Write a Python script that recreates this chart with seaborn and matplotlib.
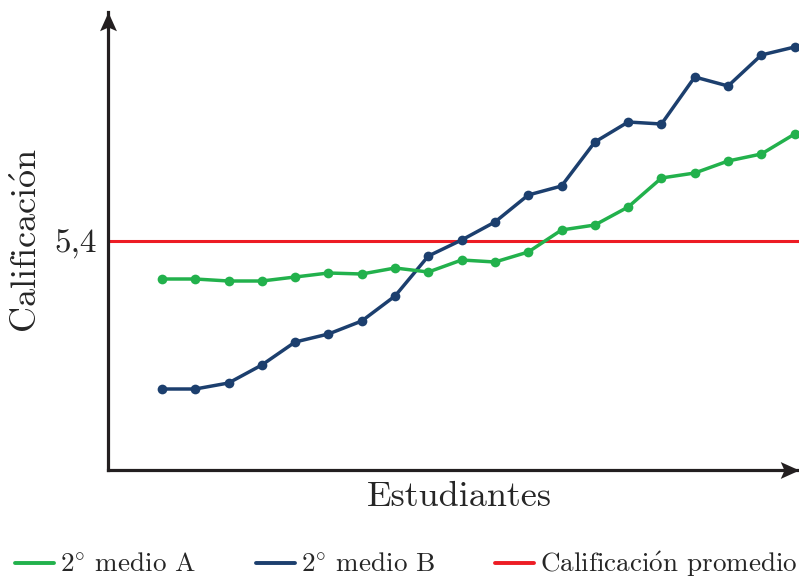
import matplotlib
matplotlib.use("Agg")
import matplotlib.pyplot as plt
import seaborn as sns
import pandas as pd
from matplotlib.path import Path
from matplotlib.lines import Line2D

# data
estudiantes = list(range(1, 21))
medio_a = [5.02, 5.02, 5.00, 5.00, 5.04, 5.08, 5.07, 5.13, 5.09, 5.21,
           5.19, 5.29, 5.51, 5.56, 5.74, 6.03, 6.08, 6.20, 6.27, 6.47]
medio_b = [3.92, 3.92, 3.98, 4.16, 4.39, 4.47, 4.60, 4.85, 5.25, 5.41,
           5.59, 5.86, 5.95, 6.39, 6.59, 6.57, 7.04, 6.95, 7.26, 7.34]
promedio = 5.4
labels = [r"2$^{\circ}$ medio A", r"2$^{\circ}$ medio B",
          r"Calificaci$\acute{\mathrm{o}}$n promedio"]

sns.set_style("white")
plt.rcParams['font.family'] = ['cmr10', 'DejaVu Serif']
plt.rcParams['mathtext.fontset'] = 'cm'
plt.rcParams['axes.unicode_minus'] = False

verde = "#22b14c"
azul = "#1c3f6e"
rojo = "#ed1c24"
negro = "#231f20"

df = pd.DataFrame({"x": estudiantes, "A": medio_a, "B": medio_b})

fig = plt.figure(figsize=(7.99, 5.77), dpi=100)
ax = fig.add_axes([108 / 799, 107 / 577, 691 / 799, 458 / 577])

ax.axhline(promedio, color=rojo, lw=2.2, zorder=1)
sns.lineplot(data=df, x="x", y="A", ax=ax, color=verde, lw=2.5,
             marker="o", markersize=7, markeredgewidth=0, zorder=3)
sns.lineplot(data=df, x="x", y="B", ax=ax, color=azul, lw=2.5,
             marker="o", markersize=7, markeredgewidth=0, zorder=2)

ax.set_xlim(-0.62, 20.13)
ax.set_ylim(3.11, 7.69)

for s in ["top", "right"]:
    ax.spines[s].set_visible(False)
for s in ["left", "bottom"]:
    ax.spines[s].set_linewidth(2.3)
    ax.spines[s].set_color(negro)

ax.set_xticks([])
ax.set_yticks([promedio])
ax.set_yticklabels(["5,4"], fontsize=24)
ax.tick_params(axis="y", direction="inout", length=14, width=2.3,
               color=negro, pad=1)

# arrow heads, tip at the end of each axis
up = Path([(0, 0), (0.45, -1), (0, -0.8), (-0.45, -1), (0, 0)],
          [Path.MOVETO, Path.LINETO, Path.LINETO, Path.LINETO, Path.CLOSEPOLY])
right = Path([(0, 0), (-1, 0.45), (-0.8, 0), (-1, -0.45), (0, 0)],
             [Path.MOVETO, Path.LINETO, Path.LINETO, Path.LINETO, Path.CLOSEPOLY])
ax.plot(0, 1, marker=up, color=negro, markersize=27, markeredgewidth=0,
        transform=ax.transAxes, clip_on=False)
ax.plot(1, 0, marker=right, color=negro, markersize=27, markeredgewidth=0,
        transform=ax.transAxes, clip_on=False)

ax.set_xlabel("Estudiantes", fontsize=26)
ax.xaxis.set_label_coords(0.508, -0.025)
ax.set_ylabel(r"Calificaci$\acute{\mathrm{o}}$n", fontsize=26)
ax.yaxis.set_label_coords(-0.092, 0.5)

handles = [Line2D([], [], color=verde, lw=2.8),
           Line2D([], [], color=azul, lw=2.8),
           Line2D([], [], color=rojo, lw=2.8)]
fig.legend(handles, labels, loc="lower left", bbox_to_anchor=(15 / 799, -0.004),
           ncol=3, frameon=False, fontsize=19.5, handlelength=1.45,
           handletextpad=0.22, columnspacing=2.2, borderpad=0,
           borderaxespad=0)

fig.savefig("out.png", dpi=100)
